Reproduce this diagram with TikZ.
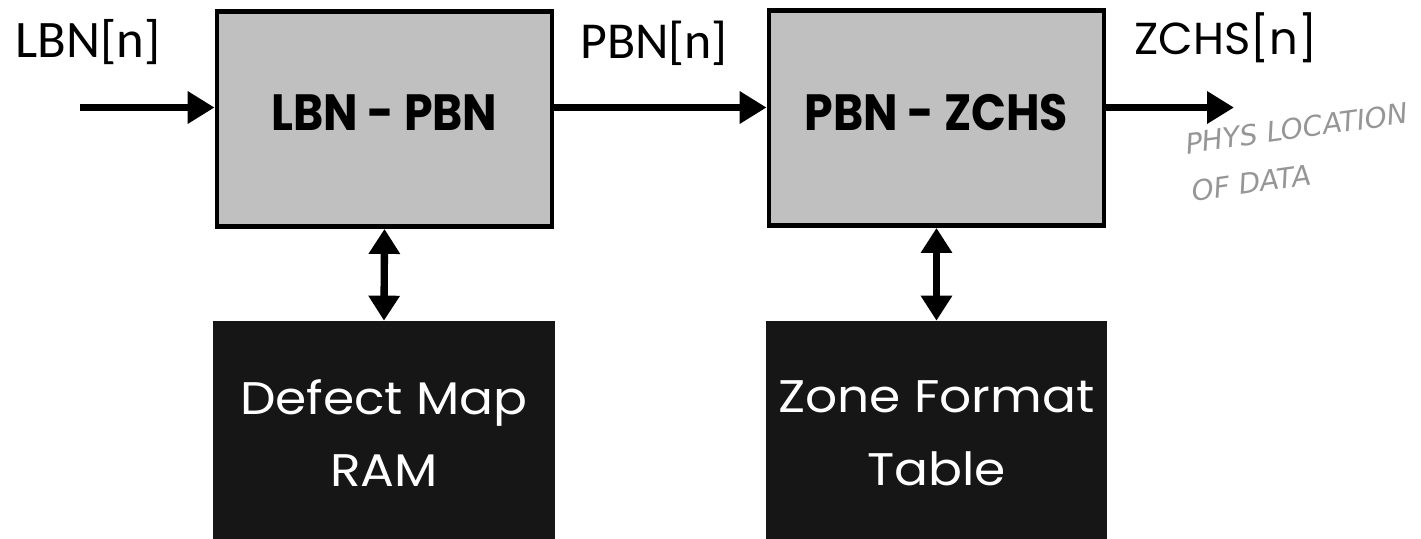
\documentclass[tikz,border=0pt]{standalone}
\usepackage{fontspec}
\usetikzlibrary{arrows.meta}
\newfontfamily\labfont{Carlito}
\newfontfamily\geofont{Poppins}
\newfontfamily\narrowgeo[FakeStretch=0.9]{Poppins}
\newfontfamily\widegeo[FakeStretch=1.1]{Poppins}
\newfontfamily\handfont{DejaVu Sans}
\definecolor{blockgray}{RGB}{192,192,192}
\definecolor{blockdark}{RGB}{22,22,22}
\definecolor{pencil}{RGB}{150,150,150}
\tikzset{
  procbox/.style={draw=black, line width=2.8pt, fill=blockgray,
    minimum width=6.7cm, minimum height=4.3cm, inner sep=0pt},
  proctext/.style={inner sep=0pt, anchor=base,
    font=\narrowgeo\bfseries\fontsize{29}{32}\selectfont},
  tablebox/.style={fill=blockdark, minimum width=6.84cm,
    minimum height=4.8cm, inner sep=0pt},
  tabletext/.style={text=white, inner sep=0pt, align=center,
    font=\widegeo\fontsize{26}{41.4}\selectfont},
  signal/.style={line width=4.4pt,
    -{Triangle[length=0.54cm,width=0.62cm]}},
  bisignal/.style={line width=4.2pt,
    {Triangle[length=0.5cm,width=0.6cm]}-{Triangle[length=0.5cm,width=0.6cm]}},
  sig/.style={inner sep=0pt, anchor=base west}
}
\begin{document}
\begin{tikzpicture}[x=0.02cm, y=-0.02cm]
\useasboundingbox (0,0) rectangle (1421,538);
\clip (0,0) rectangle (1421,538);

% translation stages
\node[procbox] (lbnpbn) at (384.5,119) {};
\node[procbox] (pbnzchs) at (936.5,118) {};
\node[proctext] (lbnpbntxt) at (lbnpbn.center |- 0,130) {LBN - PBN};
\node[proctext] (pbnzchstxt) at (pbnzchs.center |- 0,130) {PBN - ZCHS};

% lookup tables (run off the bottom edge)
\node[tablebox] (defect) at (384,441) {};
\node[tablebox] (zone) at (936.5,441) {};
\node[tabletext] (defecttxt) at (defect.center |- 0,433) {Defect Map\\RAM};
\node[tabletext] (zonetxt) at (zone.center |- 0,433) {Zone Format\\Table};

% signal labels
\node[sig, font=\labfont\fontsize{30}{32}\selectfont] (lbnlab) at (15,57) {LBN[n]};
\node[sig, font=\labfont\fontsize{29.5}{32}\selectfont] (pbnlab) at (580,58) {PBN[n]};
\node[sig, font=\geofont\fontsize{25.5}{30}\selectfont] (zchslab) at (1134,54) {ZCHS[n]};

% data path
\coordinate (in) at (80,107.5);
\coordinate (out) at (1234,107.5);
\draw[signal] (in) -- (lbnpbn.west |- in);
\draw[signal] (lbnpbn.east |- in) -- (pbnzchs.west |- in);
\draw[signal] (pbnzchs.east |- in) -- (out);

% table accesses
\draw[bisignal] (lbnpbn.south) -- (defect.north);
\draw[bisignal] (pbnzchs.south) -- (zone.north);

% pencilled margin note
\node[text=pencil, rotate=8, align=left, inner sep=0pt,
  font=\handfont\itshape\fontsize{16}{27}\selectfont] (note) at (1300,152)
  {PHYS LOCATION\\OF DATA};
\end{tikzpicture}
\end{document}
